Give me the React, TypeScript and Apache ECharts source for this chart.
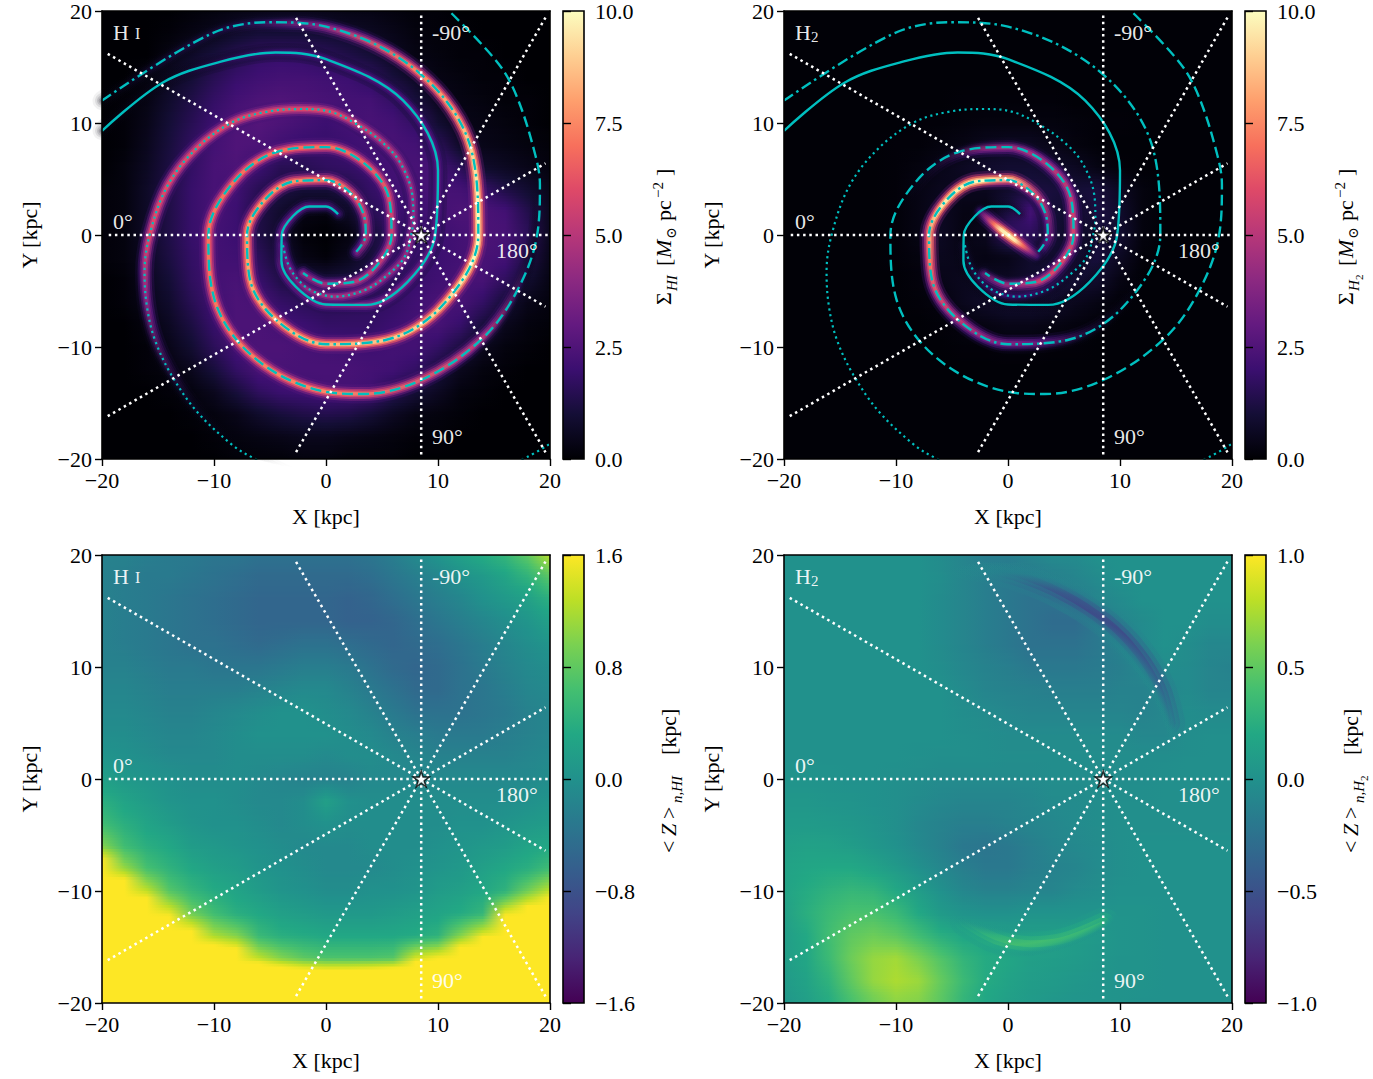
import React, { useEffect, useRef } from "react";
import * as echarts from "echarts";

const gridX = [-20,-18,-16,-14,-12,-10,-8,-6,-4,-2,0,2,4,6,8,10,12,14,16,18,20];
const gridY = [20,18,16,14,12,10,8,6,4,2,0,-2,-4,-6,-8,-10,-12,-14,-16,-18,-20];

const hiSurface = [
[0,0,0,0,.1,.2,.3,.4,.5,.5,.4,.3,.3,.2,.1,.1,0,0,0,0,0],
[0,0,0,.1,.3,.5,.8,1,1,1,.9,.8,.6,.4,.2,.1,.1,0,0,0,0],
[0,0,0,.3,.7,1.1,1.5,1.8,1.9,1.8,1.6,1.3,1,.6,.3,.2,.1,.1,0,0,0],
[0,0,.2,.6,1,1.5,1.9,2.1,2.2,2.2,2.1,2,1.7,1.1,.6,.3,.2,.1,.1,0,0],
[0,.1,.3,.8,1.3,1.8,2.2,2.4,2.5,2.4,2.3,2.2,2.2,1.8,1.1,.5,.3,.2,.1,.1,0],
[0,.1,.4,1,1.5,2,2.4,2.6,2.4,2.2,2,2.2,2.3,2.2,1.8,.9,.4,.3,.2,.1,0],
[0,.1,.5,1.1,1.7,2.2,2.5,2.4,2.1,1.9,1.9,2,2.2,2.3,2.2,1.6,.7,.4,.3,.2,.1],
[0,.2,.6,1.2,1.8,2.3,2.4,2,1.5,1.5,1.7,1.8,2,2.2,2.3,2.2,1.6,.8,.6,.4,.2],
[.1,.2,.7,1.3,1.9,2.3,2.1,1.5,1.2,1,1,1.3,1.8,2.1,2.2,2.3,2.2,1.9,1.3,.9,.4],
[.1,.2,.7,1.3,1.9,2.3,2,1.3,.8,.3,.2,.7,1.5,1.9,2,2.2,2.4,2.4,2.2,1.4,.5],
[.1,.2,.7,1.3,1.9,2.2,2,1.3,.7,.1,0,.2,1,1.7,1.8,2,2.2,2.4,2.3,1.6,.5],
[.1,.2,.6,1.2,1.8,2.2,2.1,1.6,.9,.3,.1,.5,1.1,1.7,1.9,2,2.2,2.3,2.2,1.3,.4],
[0,.1,.5,1,1.7,2.2,2.3,1.9,1.3,1.1,1,1.1,1.4,1.7,1.9,2.1,2.3,2.3,1.7,.9,.3],
[0,.1,.4,.8,1.5,2.1,2.4,2.3,1.8,1.6,1.5,1.6,1.7,1.8,2.1,2.3,2.3,1.8,1,.4,.2],
[0,0,.2,.6,1.2,1.9,2.4,2.4,2.2,2,1.8,1.8,1.8,2,2.2,2.3,1.9,1.1,.5,.2,.1],
[0,0,.1,.4,.9,1.6,2.2,2.4,2.4,2.3,2.2,2.1,2.1,2.2,2.2,1.8,1.2,.5,.2,.1,0],
[0,0,.1,.2,.5,1.1,1.8,2.3,2.3,2.3,2.3,2.3,2.2,2.1,1.8,1.1,.5,.2,.1,0,0],
[0,0,0,.1,.2,.5,1.1,1.7,2,2.1,2.2,2.2,2.1,1.5,1,.6,.2,.1,0,0,0],
[0,0,0,0,.1,.2,.4,.8,1.1,1.3,1.4,1.3,1,.6,.3,.2,.1,0,0,0,0],
[0,0,0,0,0,.1,.2,.3,.4,.5,.5,.4,.3,.2,.1,.1,0,0,0,0,0],
[0,0,0,0,0,0,.1,.1,.1,.2,.2,.1,.1,.1,0,0,0,0,0,0,0],
];

const h2Surface = [
[.05,.05,.05,.05,.05,.05,.05,.05,.05,.05,.05,.05,.05,.05,.05,.05,.05,.05,.05,.05,.05],
[.05,.05,.05,.05,.05,.05,.05,.05,.05,.05,.05,.05,.05,.05,.05,.05,.05,.05,.05,.05,.05],
[.05,.05,.05,.05,.05,.05,.05,.05,.05,.05,.05,.05,.05,.05,.05,.05,.05,.05,.05,.05,.05],
[.05,.05,.05,.05,.05,.05,.05,.05,.05,.05,.05,.05,.05,.05,.05,.05,.05,.05,.05,.05,.05],
[.05,.05,.05,.05,.05,.05,.05,.05,.1,.1,.1,.1,.1,.05,.05,.05,.05,.05,.05,.05,.05],
[.05,.05,.05,.05,.05,.05,.1,.1,.15,.2,.2,.2,.2,.15,.1,.1,.05,.05,.05,.05,.05],
[.05,.05,.05,.05,.05,.1,.1,.2,.3,.5,.6,.6,.4,.2,.1,.05,.05,.05,.05,.05,.05],
[.05,.05,.05,.05,.05,.1,.2,.4,.6,.8,.9,.9,.8,.6,.3,.1,.05,.05,.05,.05,.05],
[.05,.05,.05,.05,.05,.1,.3,.5,.5,.5,.8,1.2,1.1,1,1.1,.6,.2,.05,.05,.05,.05],
[.05,.05,.05,.05,.05,.1,.3,.6,.3,.3,1.2,2.2,1,.8,1.2,.8,.2,.05,.05,.05,.05],
[.05,.05,.05,.05,.05,.1,.3,.6,.3,.5,1.8,1.6,1,.6,1,.9,.2,.05,.05,.05,.05],
[.05,.05,.05,.05,.05,.1,.2,.5,.4,.3,.4,.8,.8,.9,1.1,.6,.1,.05,.05,.05,.05],
[.05,.05,.05,.05,.05,.05,.15,.4,.5,.6,.6,.8,1,1,.8,.3,.05,.05,.05,.05,.05],
[.05,.05,.05,.05,.05,.05,.1,.2,.5,.7,.9,.9,.8,.5,.3,.1,.05,.05,.05,.05,.05],
[.05,.05,.05,.05,.05,.05,.05,.1,.2,.3,.4,.4,.3,.2,.1,.05,.05,.05,.05,.05,.05],
[.05,.05,.05,.05,.05,.05,.05,.05,.1,.1,.15,.15,.1,.1,.05,.05,.05,.05,.05,.05,.05],
[.05,.05,.05,.05,.05,.05,.05,.05,.05,.05,.05,.05,.05,.05,.05,.05,.05,.05,.05,.05,.05],
[.05,.05,.05,.05,.05,.05,.05,.05,.05,.05,.05,.05,.05,.05,.05,.05,.05,.05,.05,.05,.05],
[.05,.05,.05,.05,.05,.05,.05,.05,.05,.05,.05,.05,.05,.05,.05,.05,.05,.05,.05,.05,.05],
[.05,.05,.05,.05,.05,.05,.05,.05,.05,.05,.05,.05,.05,.05,.05,.05,.05,.05,.05,.05,.05],
[.05,.05,.05,.05,.05,.05,.05,.05,.05,.05,.05,.05,.05,.05,.05,.05,.05,.05,.05,.05,.05],
];

const hiHeight = [
[-.2,-.2,-.25,-.3,-.3,-.35,-.35,-.4,-.4,-.4,-.4,-.4,-.35,-.25,-.1,.05,.2,.35,.5,.8,1.25],
[-.2,-.25,-.3,-.3,-.35,-.4,-.45,-.5,-.5,-.5,-.5,-.5,-.45,-.35,-.25,-.15,0,.1,.25,.45,.75],
[-.2,-.25,-.3,-.35,-.4,-.45,-.5,-.55,-.55,-.55,-.55,-.6,-.55,-.45,-.35,-.25,-.15,0,.1,.2,.4],
[-.2,-.25,-.3,-.35,-.4,-.45,-.5,-.55,-.55,-.55,-.55,-.6,-.6,-.55,-.45,-.35,-.25,-.15,-.05,.05,.2],
[-.2,-.25,-.3,-.35,-.4,-.4,-.45,-.5,-.45,-.4,-.4,-.45,-.5,-.55,-.5,-.45,-.35,-.25,-.15,-.05,.05],
[-.2,-.2,-.25,-.3,-.3,-.35,-.35,-.35,-.3,-.25,-.25,-.3,-.4,-.5,-.55,-.5,-.4,-.3,-.2,-.1,-.05],
[-.15,-.15,-.2,-.25,-.25,-.25,-.25,-.2,-.15,-.1,-.1,-.2,-.3,-.4,-.5,-.5,-.4,-.35,-.25,-.15,-.1],
[-.1,-.1,-.15,-.2,-.2,-.15,-.1,-.05,0,0,-.05,-.1,-.2,-.3,-.4,-.4,-.4,-.35,-.3,-.2,-.15],
[-.05,-.05,-.1,-.15,-.15,-.1,-.05,0,0,0,0,-.05,-.1,-.2,-.25,-.3,-.3,-.3,-.25,-.2,-.15],
[.05,0,-.05,-.1,-.1,-.1,-.05,-.05,-.05,-.05,-.1,-.05,-.05,-.1,-.15,-.2,-.2,-.2,-.2,-.15,-.1],
[.2,.1,.05,0,-.05,-.05,-.05,-.1,-.15,-.2,-.2,-.2,-.1,-.1,-.1,-.1,-.1,-.1,-.1,-.1,-.05],
[.4,.25,.15,.05,0,0,-.05,-.1,-.1,-.05,.2,0,-.05,-.05,-.05,-.05,-.05,-.05,-.05,0,.05],
[.6,.4,.25,.15,.05,0,0,-.05,-.1,-.05,0,-.05,-.05,-.05,-.05,-.05,0,0,.05,.1,.15],
[1,.6,.4,.3,.15,.1,.05,0,-.05,-.1,-.1,-.1,-.05,-.05,-.05,0,.05,.1,.15,.25,.3],
[2,1.1,.65,.45,.3,.2,.15,.05,0,-.05,-.1,-.1,-.1,-.05,0,.05,.1,.2,.3,.4,.6],
[3,2.1,1.3,.75,.5,.35,.25,.15,.05,0,-.05,-.05,0,0,.05,.15,.2,.3,.45,.9,1.3],
[4,3,2.2,1.5,.9,.6,.4,.3,.2,.15,.1,.1,.1,.15,.2,.25,.35,.5,1.5,1.9,2.2],
[5,4,3,2.4,1.8,1.2,1,.55,.4,.35,.3,.3,.3,.3,.35,.45,1,1.5,2.5,2.8,3.5],
[6,5,4,3.3,2.7,2.2,2,1.3,1,.8,.7,.7,.7,.75,1.4,1.6,2.2,3,3.5,4,4.5],
[7,6,5,4.2,3.5,3,2.8,2.6,2.5,2.4,2.4,2.4,2.5,2.6,2.8,3,3.5,4,4.5,5,5.5],
[7,6,5,5,5,5,5,5,5,5,5,5,5,5,5,5,5,5,5,5,5],
];

const h2Height = [
[0,0,0,0,0,0,0,-.05,-.1,-.15,-.15,-.1,-.05,-.05,0,0,0,0,0,0,0],
[0,0,0,0,0,0,0,-.03,-.1,-.15,-.2,-.2,-.15,-.1,-.05,0,0,0,0,0,0],
[0,0,0,0,0,0,0,-.05,-.1,-.15,-.2,-.25,-.25,-.2,-.1,-.05,0,0,0,0,0],
[0,0,0,0,0,0,0,-.05,-.1,-.15,-.2,-.25,-.3,-.3,-.2,-.1,-.05,0,0,-.03,-.03],
[0,0,0,0,0,0,0,-.05,-.1,-.15,-.2,-.25,-.25,-.25,-.2,-.12,-.05,0,-.03,-.08,-.08],
[0,0,0,0,0,0,0,-.03,-.08,-.12,-.15,-.2,-.2,-.2,-.18,-.15,-.08,-.03,-.05,-.1,-.12],
[0,0,0,0,0,0,0,0,-.05,-.1,-.12,-.13,-.15,-.15,-.15,-.12,-.12,-.08,-.05,-.1,-.1],
[0,0,0,0,0,0,0,0,-.03,-.05,-.08,-.1,-.1,-.1,-.1,-.1,-.12,-.08,-.03,-.05,-.05],
[0,0,0,0,0,0,0,0,-.02,-.03,-.05,-.05,-.05,-.05,-.05,-.05,-.08,-.08,-.03,-.02,-.02],
[0,0,0,0,0,0,-.01,-.02,-.02,-.02,-.03,-.03,-.03,-.03,-.03,-.03,-.03,-.03,-.02,-.02,-.02],
[.02,.02,.01,0,0,-.02,-.03,-.05,-.05,-.05,-.05,-.05,-.03,-.03,-.03,-.03,-.03,-.02,-.02,-.02,-.02],
[.05,.05,.03,.02,0,-.02,-.05,-.08,-.1,-.1,-.1,-.08,-.05,-.05,-.03,-.02,-.02,-.02,-.02,-.02,-.02],
[.08,.08,.07,.05,.02,-.02,-.08,-.12,-.15,-.15,-.12,-.1,-.08,-.05,-.03,-.02,-.02,-.02,-.02,-.02,-.02],
[.12,.14,.13,.1,.05,0,-.07,-.13,-.2,-.22,-.2,-.15,-.1,-.07,-.05,-.02,0,0,0,0,0],
[.15,.18,.2,.2,.15,.08,0,-.08,-.15,-.2,-.2,-.15,-.12,-.1,-.05,-.02,0,0,0,0,0],
[.15,.22,.28,.32,.3,.2,.1,0,-.08,-.12,-.12,-.1,-.1,-.05,-.03,0,0,0,0,0,0],
[.12,.25,.35,.42,.42,.35,.2,.08,.02,0,0,.02,.02,.02,.02,.02,.02,0,0,0,0],
[.1,.2,.38,.5,.55,.5,.38,.25,.18,.15,.12,.12,.12,.1,.06,.03,.02,0,0,0,0],
[.1,.18,.35,.55,.68,.72,.6,.45,.3,.22,.18,.12,.1,.08,.05,.02,.02,0,0,0,0],
[.08,.15,.28,.5,.68,.75,.7,.52,.35,.22,.15,.1,.08,.05,.03,.02,.02,0,0,0,0],
[.05,.12,.22,.4,.55,.65,.62,.48,.3,.18,.12,.08,.05,.03,.02,.02,0,0,0,0,0],
];

const armSolid = [[-20,9.3],[-14.6,13.6],[-9.3,15.5],[-4.5,16.3],[0,15.7],[6.9,12],[10,5.75],[9.75,0],[7.27,-4.2],[3.6,-6.24],[0,-6.2],[-2.68,-4.63],[-3.98,-2.3],[-3.95,0],[-2.94,1.7],[-1.48,2.55],[0,2.55],[1.08,1.86]];
const armDashDot = [[-20,12],[-10.4,17.9],[-5.1,19],[0,18.6],[8.35,14.46],[13,7.5],[13.6,0],[10.57,-6.1],[5.4,-9.35],[0,-9.75],[-4.4,-7.62],[-6.8,-3.93],[-7.05,0],[-5.46,3.15],[-2.78,4.8],[0,4.9],[2.18,3.77],[3.33,1.93],[3.55,0],[2.7,-1.5]];
const armDashed = [[11.2,19.8],[15.4,15.3],[17.1,12.2],[18.7,7.1],[19.1,4.5],[18.85,0],[17,-5.1],[13.9,-9.3],[8.6,-12.9],[3.3,-14.2],[0,-14],[-6.35,-11],[-9.96,-5.75],[-10.5,0],[-8.23,4.75],[-4.3,7.45],[0,7.85],[3.6,6.24],[5.63,3.25],[5.85,0],[4.6,-2.65],[2.43,-4.2],[0,-4.35],[-2.05,-3.4]];
const armDotted = [[19.9,-18.7],[18,-19.8],[13,-22],[4,-23],[-2,-22],[-6.5,-19.9],[-8.3,-18.8],[-11.5,-15.8],[-13.8,-12.5],[-15.3,-9.3],[-16,-6.3],[-16.2,-3.3],[-15.7,0.2],[-14.1,4.5],[-11.5,7.8],[-8.3,10.1],[-5.3,11],[-2.3,11.25],[0.4,11],[2.9,9.8],[5,8.3],[6.6,6.5],[7.7,3.6],[7.8,1.5],[7.6,0],[7,-2],[5.45,-3.6],[3.5,-4.9],[0.8,-5.5],[-1,-5.1],[-2.2,-4.3],[-3.3,-2.8],[-3.85,-0.9]];
const h2Bar = [[-2.6,2.2],[-1.5,1.2],[-0.4,0.3],[0.8,-0.6],[2.6,-1.9]];
const h2ZTrough = [[-3.7,19.3],[0.5,18.4],[4.9,16.6],[8.9,14],[11.6,11.2],[13.4,8.2],[14.3,5]];
const h2ZRidge = [[-3.7,-12.6],[-1,-14.1],[2,-14.7],[4.9,-14.4],[8.5,-13]];

const hiSolidPeak = [[0,0],[2,2],[4,3.5],[8,4],[10,3],[14,2.8],[17,2.2],[20,.6],[30,0]];
const hiDashDotPeak = [[0,0],[3,3],[4,6],[5,7.5],[7,8],[9.75,8.5],[12.2,9.2],[13.6,10],[15,9],[16.7,7.5],[18.6,4],[20,1.6],[23,.5],[30,0]];
const hiDashedPeak = [[0,0],[3,3],[5,5],[6,5.5],[7.8,7],[10.5,7],[14,7.5],[16.7,5],[18,1.5],[19,0],[30,0]];
const hiDottedPeak = [[0,0],[4,3],[5.5,4.5],[8,4],[9,4.5],[11,6],[15.7,6],[17,4],[19,1],[21,0],[30,0]];
const h2SolidPeak = [[0,0],[4,.5],[7,.6],[9,0],[30,0]];
const h2DashDotPeak = [[0,0],[2.5,1],[3.6,3],[4.5,6.5],[5.2,10],[6.5,9.5],[7.2,7.5],[8.5,5.5],[9.75,3.5],[11.5,1],[13,0],[30,0]];
const h2DashedPeak = [[0,0],[3.5,1.5],[4.5,4.5],[5.2,6],[6,5.5],[7.8,4.5],[9,1],[10,0],[30,0]];
const h2DottedPeak = [[0,0],[4,1],[5.5,2],[7,.6],[8,0],[30,0]];
const h2BarPeak = [[0,10],[.8,9.5],[1.6,7],[2.4,4.5],[3.4,2],[4.4,0],[30,0]];
const h2ZTroughLevel = [[0,0],[14.8,0],[15.1,-.1],[15.7,-.3],[16.1,-.45],[16.6,-.6],[17.3,-.5],[18.4,-.15],[19.5,0],[30,0]];
const h2ZRidgeLevel = [[0,0],[13,0],[14,.3],[14.8,.42],[15.2,.35],[15.8,.1],[16,0],[30,0]];

const sunPosition = [[8.5,0]];
const rayEnds = [[-19.4,0],[-19.7,16.3],[-2.8,19.6],[8.5,19.6],[19.7,19.6],[19.6,6.4],[19.8,0],[19.6,-6.4],[19.6,-19.4],[8.5,-19.6],[-2.8,-19.6],[-19.7,-16.3]];

const surfaceTicks = [0,2.5,5,7.5,10];
const hiZTicks = [-1.6,-.8,0,.8,1.6];
const h2ZTicks = [-1,-.5,0,.5,1];

const MAGMA = ["#000004","#140e36","#3b0f70","#641a80","#8c2981","#b73779","#de4968","#f7705c","#fe9f6d","#fecf92","#fcfdbf"];
const VIRIDIS = ["#440154","#482475","#414487","#355f8d","#2a788e","#21918c","#22a884","#44bf70","#7ad151","#bddf26","#fde725"];
const SERIF = '"Liberation Serif","DejaVu Serif","DejaVu Sans"';
const CYAN = "#00BFBF";
const STAR = "path://M0,-10 L2.25,-3.09 L9.51,-3.09 L3.63,1.18 L5.88,8.09 L0,3.82 L-5.88,8.09 L-3.63,1.18 L-9.51,-3.09 L-2.25,-3.09Z";
const FONT = 22;
const PX_PER_KPC = 11.2;

const rgbOf = (h: string) => [parseInt(h.slice(1,3),16),parseInt(h.slice(3,5),16),parseInt(h.slice(5,7),16)];
function shade(map: string[], t: number, a = 1) {
  const c = Math.max(0, Math.min(1, t)) * (map.length - 1);
  const i = Math.min(map.length - 2, Math.floor(c));
  const f = c - i;
  const p = rgbOf(map[i]), q = rgbOf(map[i + 1]);
  const m = [0,1,2].map((k) => Math.round(p[k] + (q[k] - p[k]) * f));
  return `rgba(${m[0]},${m[1]},${m[2]},${a})`;
}

const fmt = (d: number) => (v: number) => (v < 0 ? "\u2212" : "") + Math.abs(v).toFixed(d);

const panels = [
  { left: 102, top: 11, field: hiSurface, map: MAGMA, lo: 0, hi: 10, ticks: surfaceTicks, step: 2.5 },
  { left: 784, top: 11, field: h2Surface, map: MAGMA, lo: 0, hi: 10, ticks: surfaceTicks, step: 2.5 },
  { left: 102, top: 555, field: hiHeight, map: VIRIDIS, lo: -1.6, hi: 1.6, ticks: hiZTicks, step: .8 },
  { left: 784, top: 555, field: h2Height, map: VIRIDIS, lo: -1, hi: 1, ticks: h2ZTicks, step: .5 },
];

const surfaceLayers = [
  { w: 19, s: .38, a: .3 },
  { w: 14, s: .55, a: .5 },
  { w: 10, s: .72, a: .7 },
  { w: 6.5, s: .86, a: .85 },
  { w: 3.5, s: 1, a: 1 },
];
const heightLayers = [
  { w: 34, s: .3, a: .35 },
  { w: 24, s: .55, a: .5 },
  { w: 15, s: .8, a: .6 },
  { w: 7, s: 1, a: .7 },
];

function buildOption() {
  const grid: any[] = [], xAxis: any[] = [], yAxis: any[] = [], series: any[] = [], graphic: any[] = [];
  const line = { show: true, onZero: false, lineStyle: { color: "#000", width: 1.6 } };
  const tick = { show: true, length: 7, lineStyle: { color: "#000", width: 1.4 } };
  const label = { color: "#000", fontFamily: SERIF, fontSize: FONT };

  panels.forEach((p, pi) => {
    const gi = grid.length;
    grid.push({ left: p.left, top: p.top, width: 448, height: 448 });
    const xi = xAxis.length, yi = yAxis.length;
    xAxis.push({ type: "value", gridIndex: gi, min: -20, max: 20, interval: 10, position: "bottom", z: 10, splitLine: { show: false },
      axisLine: line, axisTick: tick, axisLabel: { ...label, margin: 10, formatter: fmt(0) },
      name: "X [kpc]", nameLocation: "middle", nameGap: 46, nameTextStyle: label });
    xAxis.push({ type: "value", gridIndex: gi, min: -20, max: 20, position: "top", z: 10, splitLine: { show: false }, axisLine: line, axisTick: { show: false }, axisLabel: { show: false } });
    yAxis.push({ type: "value", gridIndex: gi, min: -20, max: 20, interval: 10, position: "left", z: 10, splitLine: { show: false },
      axisLine: line, axisTick: tick, axisLabel: { ...label, margin: 10, formatter: fmt(0) },
      name: "Y [kpc]", nameLocation: "middle", nameGap: 62, nameTextStyle: label });
    yAxis.push({ type: "value", gridIndex: gi, min: -20, max: 20, position: "right", z: 10, splitLine: { show: false }, axisLine: line, axisTick: { show: false }, axisLabel: { show: false } });

    const bands = 8;
    series.push({
      type: "custom", xAxisIndex: xi, yAxisIndex: yi, z: 1, silent: true, clip: true,
      data: gridY.map((y) => [gridX[0], y]),
      renderItem: (params: any, api: any) => {
        const i = params.dataIndex;
        if (i >= gridY.length - 1) return { type: "group", children: [] };
        const a = p.field[i], b = p.field[i + 1];
        const x0 = api.coord([-20, 0])[0], x1 = api.coord([20, 0])[0];
        const y0 = api.coord([0, gridY[i]])[1], y1 = api.coord([0, gridY[i + 1]])[1];
        const h = (y1 - y0) / bands;
        const children: any[] = [];
        for (let k = 0; k < bands; k++) {
          const t = (k + .5) / bands;
          const stops = a.map((v: number, j: number) => ({
            offset: j / (gridX.length - 1),
            color: shade(p.map, (v + (b[j] - v) * t - p.lo) / (p.hi - p.lo)),
          }));
          children.push({ type: "rect", shape: { x: x0, y: y0 + k * h, width: x1 - x0, height: h + 1 },
            style: { fill: new echarts.graphic.LinearGradient(0, 0, 1, 0, stops) } });
        }
        return { type: "group", children };
      },
    });

    const glow = (pts: number[][], level: number[][], layers: any[], ref: number, z: number) => {
      const cx = p.left + 224, cy = p.top + 224, R = 30;
      layers.forEach((l) => {
        const stops = level.map(([r, v]) => ({
          offset: r / R,
          color: shade(p.map, (v * l.s - (pi < 2 ? 0 : 0) - p.lo - (pi < 2 ? 0 : 0)) / (p.hi - p.lo), l.a * Math.min(1, Math.abs(v) / ref)),
        }));
        series.push({ type: "line", xAxisIndex: xi, yAxisIndex: yi, z, silent: true, data: pts, symbol: "none", smooth: .35,
          lineStyle: { width: l.w, cap: "round", color: new echarts.graphic.RadialGradient(cx, cy, R * PX_PER_KPC, stops, true) } });
      });
    };
    if (pi === 0) {
      glow(armSolid, hiSolidPeak, surfaceLayers, 2.5, 2);
      glow(armDotted, hiDottedPeak, surfaceLayers, 2.5, 2);
      glow(armDashed, hiDashedPeak, surfaceLayers, 2.5, 2);
      glow(armDashDot, hiDashDotPeak, surfaceLayers, 2.5, 2);
    } else if (pi === 1) {
      glow(armSolid, h2SolidPeak, surfaceLayers, 2.5, 2);
      glow(armDotted, h2DottedPeak, surfaceLayers, 2.5, 2);
      glow(armDashed, h2DashedPeak, surfaceLayers, 2.5, 2);
      glow(armDashDot, h2DashDotPeak, surfaceLayers, 2.5, 2);
      glow(h2Bar, h2BarPeak, surfaceLayers, 2.5, 2);
    } else if (pi === 3) {
      glow(h2ZTrough, h2ZTroughLevel, heightLayers, .3, 2);
      glow(h2ZRidge, h2ZRidgeLevel, heightLayers, .25, 2);
    }

    if (pi < 2) {
      const arm = (d: number[][], type: any, width = 2.4) =>
        series.push({ type: "line", xAxisIndex: xi, yAxisIndex: yi, z: 3, silent: true, data: d, symbol: "none", smooth: .35,
          lineStyle: { color: CYAN, width, type } });
      arm(armSolid, "solid");
      arm(armDashDot, [11, 4, 2.6, 4]);
      arm(armDashed, [11, 5]);
      arm(armDotted, [2.2, 3.6], 2.2);
    }

    rayEnds.forEach((e) => {
      series.push({ type: "line", xAxisIndex: xi, yAxisIndex: yi, z: 4, silent: true, data: [sunPosition[0], e], symbol: "none",
        lineStyle: { color: "#fff", width: 2.5, type: [2.5, 3.7] } });
    });
    series.push({ type: "scatter", xAxisIndex: xi, yAxisIndex: yi, z: 5, silent: true, data: sunPosition, symbol: STAR, symbolSize: 16,
      itemStyle: { color: "#fff", borderColor: "#000", borderWidth: 1.5 } });

    // colour bar
    const cg = grid.length;
    grid.push({ left: p.left + 461, top: p.top, width: 21, height: 448 });
    const cx = xAxis.length, cy = yAxis.length;
    xAxis.push({ type: "value", gridIndex: cg, min: 0, max: 1, show: false });
    yAxis.push({ type: "value", gridIndex: cg, min: p.lo, max: p.hi, interval: p.step, position: "right", z: 10, splitLine: { show: false },
      axisLine: { show: false }, axisTick: { show: true, length: 8, lineStyle: { color: "#000", width: 1.4 } },
      axisLabel: { ...label, margin: 11, formatter: fmt(1) } });
    series.push({
      type: "custom", xAxisIndex: cx, yAxisIndex: cy, silent: true, z: 2, clip: false,
      data: [[0, p.lo, p.hi]], encode: { x: 0, y: [1, 2] },
      renderItem: (_: any, api: any) => {
        const a = api.coord([0, api.value(2)]), b = api.coord([1, api.value(1)]);
        return { type: "rect", shape: { x: a[0], y: a[1], width: b[0] - a[0], height: b[1] - a[1] },
          style: { stroke: "#000", lineWidth: 1.6,
            fill: new echarts.graphic.LinearGradient(0, 1, 0, 0, p.map.map((c, i) => ({ offset: i / (p.map.length - 1), color: c }))) } };
      },
    });

    // labels inside the panel
    const dx = p.left - 102, dy = p.top - 11;
    const white = "rgba(255,255,255,.92)";
    const put = (text: string, x: number, y: number, size = FONT) =>
      graphic.push({ type: "text", z: 20, x: x + dx, y: y + dy, style: { text, fill: white, font: `${size}px ${SERIF}`, verticalAlign: "middle", align: "left" } });
    put("-90\u00b0", 432, 32);
    put("90\u00b0", 432, 436);
    put("0\u00b0", 113, 221);
    put("180\u00b0", 496, 250);
    put("H", 113, 32);
    if (pi % 2 === 0) put("I", 135, 33, 16);
    else put("2", 129, 37, 15);

    // colour bar title, reading upwards
    const piece = (text: string, x: number, y: number, size: number, italic = false) => ({
      type: "text", x, y, style: { text, fill: "#000", font: `${italic ? "italic " : ""}${size}px ${SERIF}`, verticalAlign: "bottom", align: "left" },
    });
    const kids = pi < 2
      ? [piece("\u03a3", 0, 0, FONT), piece(pi === 0 ? "HI" : "H", 14, 5, 15, true), ...(pi === 1 ? [piece("2", 25, 8, 11)] : []),
         piece("[", 39, 0, FONT), piece("M", 47, 0, FONT, true), piece("\u2299", 66, 4, 14), piece("pc", 84, 0, FONT), piece("\u22122", 107, -9, 15), piece("]", 129, 0, FONT)]
      : [piece("<", 0, 0, FONT), piece("Z", 17, 0, FONT, true), piece(">", 34, 0, FONT), piece(pi === 2 ? "n,HI" : "n,H", 50, 5, 15, true), ...(pi === 3 ? [piece("2", 72, 8, 11)] : []),
         piece("[kpc]", 98 - (pi === 3 ? 0 : 0), 0, FONT)];
    graphic.push({ type: "group", z: 20, x: p.left + (pi < 2 ? 572 : 577), y: p.top + (pi < 2 ? 294 : 298), rotation: Math.PI / 2, children: kids });
  });
  return { animation: false, backgroundColor: "#fff", grid, xAxis, yAxis, series, graphic };
}

export default function App() {
  const ref = useRef<HTMLDivElement>(null);
  useEffect(() => {
    document.body.style.margin = "0";
    const chart = echarts.init(ref.current!, undefined, { renderer: "svg" });
    chart.setOption(buildOption());
    return () => chart.dispose();
  }, []);
  return <div ref={ref} style={{ width: 1373, height: 1079 }} />;
}
